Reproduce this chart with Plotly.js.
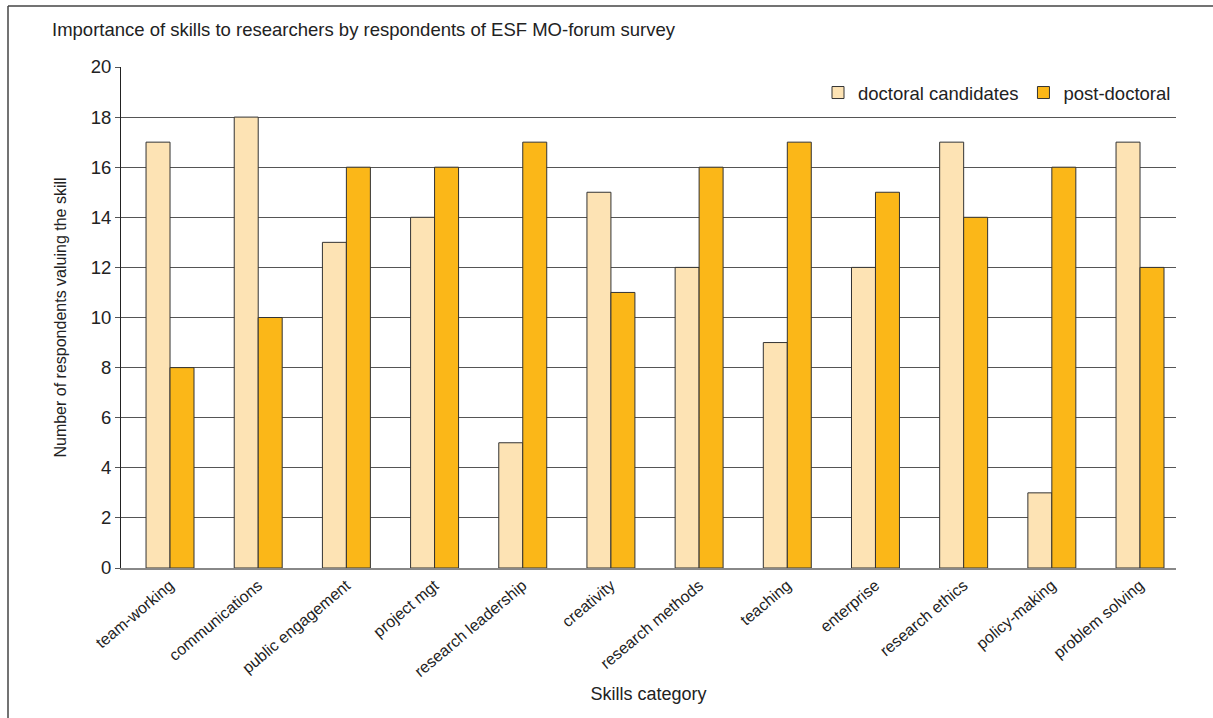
<!DOCTYPE html>
<html>
<head>
<meta charset="utf-8">
<script src="https://cdn.plot.ly/plotly-3.0.1.min.js"></script>
<style>html,body{margin:0;padding:0;background:#fff;}#chart{width:1213px;height:718px;}</style>
</head>
<body>
<div id="chart"></div>
<script>
const categories = ["team-working","communications","public engagement","project mgt","research leadership","creativity","research methods","teaching","enterprise","research ethics","policy-making","problem solving"];
const doctoralCandidates = [17,18,13,14,5,15,12,9,12,17,3,17];
const postDoctoral = [8,10,16,16,17,11,16,17,15,14,16,12];
const yTicks = [0,2,4,6,8,10,12,14,16,18,20];

const FONT = "Liberation Sans, Arial, Helvetica, sans-serif";
const TXT = "#222";

const W = 1213, H = 718, L = 121, R = 37, T = 67, B = 150;
const pw = W - L - R, ph = H - T - B;
const px = v => (v - L) / pw;
const py = v => (H - B - v) / ph;

const traces = [
  {type:"bar", name:"doctoral candidates", x:categories, y:doctoralCandidates,
   marker:{color:"#FDE3B4", line:{color:"#333", width:1}}},
  {type:"bar", name:"post-doctoral", x:categories, y:postDoctoral,
   marker:{color:"#FBB718", line:{color:"#333", width:1}}}
];

const layout = {
  width: W, height: H,
  margin:{l:L, r:R, t:T, b:B, pad:0},
  paper_bgcolor:"#fff", plot_bgcolor:"#fff",
  font:{family:FONT, size:18, color:TXT},
  barmode:"group", bargap:0.456, bargroupgap:0,
  title:{text:"Importance of skills to researchers by respondents of ESF MO-forum survey",
         xref:"container", yref:"container", x:52/W, y:1-30/H, xanchor:"left", yanchor:"middle",
         font:{family:FONT, size:18.5, color:TXT}},
  xaxis:{type:"category", range:[-0.556, 11.408], tickangle:-40, ticks:"", showgrid:false,
         showline:true, linecolor:"#888", linewidth:2, zeroline:false,
         tickfont:{family:FONT, size:16, color:TXT}, automargin:false,
         title:{text:"Skills category", standoff:8, font:{family:FONT, size:18, color:TXT}}},
  yaxis:{range:[0,20], tickvals:yTicks, ticktext:yTicks.map(String), ticks:"outside", ticklen:5,
         tickcolor:"#555", showline:true, linecolor:"#222", linewidth:1, showgrid:true,
         gridcolor:"#555", gridwidth:1, zeroline:false, automargin:false,
         tickfont:{family:FONT, size:18.5, color:TXT},
         title:{text:"Number of respondents valuing the skill", standoff:20, font:{family:FONT, size:16, color:TXT}}},
  legend:{orientation:"h", x:1, xanchor:"right", y:py(93), yanchor:"middle",
          bgcolor:"rgba(255,255,255,0)", font:{family:FONT, size:18.5, color:TXT},
          itemwidth:30, traceorder:"normal"},
  shapes:[
    {type:"line", xref:"paper", yref:"paper", x0:px(8), x1:px(1220), y0:py(6), y1:py(6), line:{color:"#444", width:1.5}},
    {type:"line", xref:"paper", yref:"paper", x0:px(8), x1:px(8), y0:py(6), y1:py(730), line:{color:"#444", width:1.5}}
  ]
};

Plotly.newPlot("chart", traces, layout, {displayModeBar:false, staticPlot:true});
</script>
</body>
</html>
